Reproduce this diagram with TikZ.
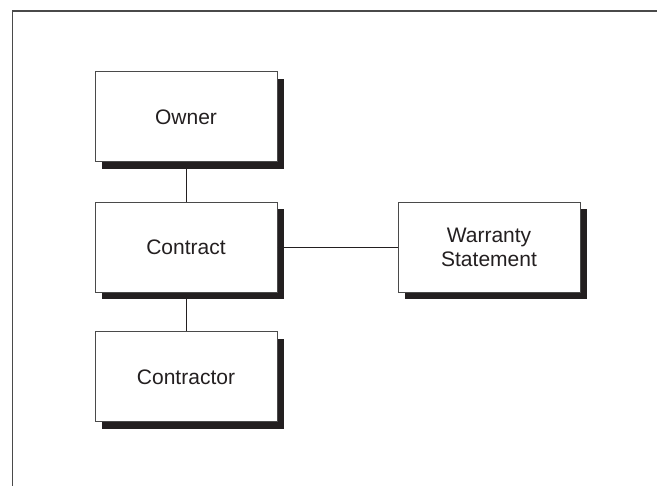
\documentclass[tikz,border=0pt]{standalone}
\usepackage{fontspec}
\setmainfont{Liberation Sans}
\usetikzlibrary{shadows}
\definecolor{ink}{HTML}{231F20}
\definecolor{rule}{HTML}{4A4A4A}
\begin{document}
\begin{tikzpicture}[x=1pt,y=-1pt,
  card/.style={draw=rule, line width=1pt, fill=white,
    minimum width=182pt, minimum height=90pt, inner sep=0pt,
    align=center, font=\fontsize{21}{24}\selectfont, text=ink,
    drop shadow={shadow xshift=7pt, shadow yshift=-7pt, fill=ink, opacity=1}},
  link/.style={draw=ink, line width=1pt}]
  \useasboundingbox (0,0) rectangle (657,486);
  % open frame: top and left edges
  \draw[rule, line width=1.5pt] (657,11) -- (12.5,11) -- (12.5,486);
  % boxes
  \node[card] (owner) at (186,117) {Owner};
  \node[card] (contract) at (186,247.5) {Contract};
  \node[card] (warranty) at (489,247.5) {Warranty\\Statement};
  \node[card] (contractor) at (186,377) {Contractor};
  % connectors
  \draw[link] (owner.south) -- (contract.north);
  \draw[link] (contract.east) -- (warranty.west);
  \draw[link] (contract.south) -- (contractor.north);
\end{tikzpicture}
\end{document}
